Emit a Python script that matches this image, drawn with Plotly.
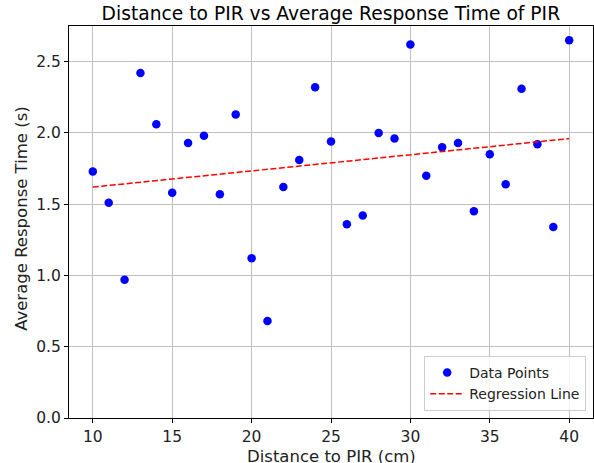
import plotly.graph_objects as go

# distance (cm) and measured response time (s)
distance_cm = [10, 11, 12, 13, 14, 15, 16, 17, 18, 19, 20, 21, 22, 23, 24, 25,
               26, 27, 28, 29, 30, 31, 32, 33, 34, 35, 36, 37, 38, 39, 40]
response_s = [1.73, 1.51, 0.97, 2.42, 2.06, 1.58, 1.93, 1.98, 1.57, 2.13, 1.12,
              0.68, 1.62, 1.81, 2.32, 1.94, 1.36, 1.42, 2.00, 1.96, 2.62, 1.70,
              1.90, 1.93, 1.45, 1.85, 1.64, 2.31, 1.92, 1.34, 2.65]

# regression line end points
reg_x = [10, 40]
reg_y = [1.62, 1.96]

x_ticks = [10, 15, 20, 25, 30, 35, 40]
y_ticks = [0.0, 0.5, 1.0, 1.5, 2.0, 2.5]

fig = go.Figure()
fig.add_trace(go.Scatter(x=distance_cm, y=response_s, mode="markers",
                         marker=dict(color="blue", size=8.5), name="Data Points"))
fig.add_trace(go.Scatter(x=reg_x, y=reg_y, mode="lines",
                         line=dict(color="red", width=1.5, dash="6px,2.5px"),
                         name="Regression Line"))

fig.update_layout(
    width=594, height=463,
    margin=dict(l=69, r=1, t=26, b=45, autoexpand=False),
    paper_bgcolor="white", plot_bgcolor="white",
    font=dict(family="DejaVu Sans", color="#222222", size=15),
    title=dict(text="Distance to PIR vs Average Response Time of PIR",
               x=0.557, xanchor="center", y=0.972, yanchor="middle",
               font=dict(size=18.7, color="black")),
    legend=dict(x=0.987, y=0.018, xanchor="right", yanchor="bottom",
                bgcolor="rgba(255,255,255,0.8)", bordercolor="#cccccc",
                borderwidth=1, font=dict(size=14), itemwidth=34,
                tracegroupgap=2),
    showlegend=True,
)
axis_style = dict(showline=True, linecolor="black", linewidth=1, mirror=True,
                  showgrid=True, gridcolor="#c0c0c0", gridwidth=1,
                  ticks="outside", ticklen=4, tickcolor="black", zeroline=False,
                  automargin=False, tickfont=dict(size=15.5))
fig.update_xaxes(range=[8.5, 41.5], tickvals=x_ticks, **axis_style)
fig.update_yaxes(range=[0, 2.75], tickvals=y_ticks, tickformat=".1f", **axis_style)

# axis titles as annotations so they sit where the reference puts them
fig.add_annotation(text="Distance to PIR (cm)", xref="paper", yref="paper",
                   x=0.5, y=-0.097, xanchor="center", yanchor="middle",
                   showarrow=False, borderpad=0, font=dict(size=16.5))
fig.add_annotation(text="Average Response Time (s)", xref="paper", yref="paper",
                   x=-0.092, y=0.51, xanchor="center", yanchor="middle",
                   textangle=-90, showarrow=False, font=dict(size=16.5))

# page body has a default 8px margin; drop it so the figure fills the window
fig.write_html("out.html", config={"displayModeBar": False},
               post_script="document.body.style.margin='0';")
